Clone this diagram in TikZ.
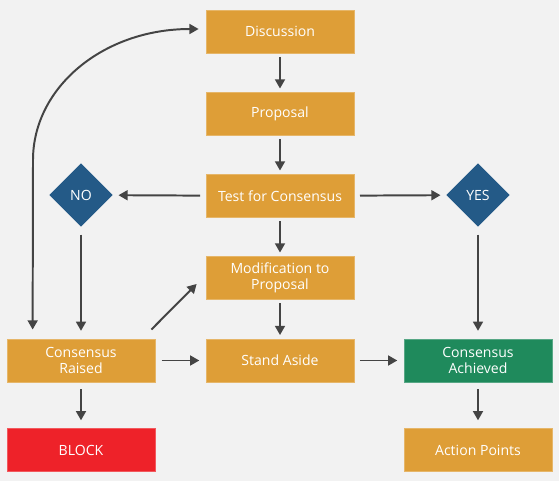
\documentclass[tikz,border=0pt]{standalone}
\usepackage{fontspec}
\setmainfont{Open Sans}
\usetikzlibrary{shapes.geometric}
\usetikzlibrary{arrows.meta}
\usetikzlibrary{calc}

\definecolor{bggrey}{HTML}{F2F2F2}
\definecolor{steporange}{HTML}{DE9E37}
\definecolor{decideblue}{HTML}{245A87}
\definecolor{donegreen}{HTML}{1F8A5C}
\definecolor{blockred}{HTML}{EE2229}
\definecolor{arrowgrey}{HTML}{444444}

\begin{document}
\begin{tikzpicture}[x=0.025cm, y=-0.025cm,
    stepbox/.style={fill=steporange, draw=steporange!75!white, line width=0.5pt,
        text=white, minimum width=3.7cm, minimum height=1.08cm, inner sep=0pt,
        align=center, font=\fontsize{10}{11.3}\selectfont},
    choice/.style={diamond, aspect=1, fill=decideblue, minimum size=1.585cm,
        inner sep=0pt, text=white, font=\fontsize{10}{11.3}\selectfont},
    arr/.style={draw=arrowgrey, line width=1.4pt, -{Triangle[length=6.5pt,width=7pt]}}]
    \path[use as bounding box, fill=bggrey] (0,0) rectangle (559,481);

    \node[stepbox] (disc) at (280,31.5) {Discussion};
    \node[stepbox] (prop) at (280,114) {Proposal};
    \node[stepbox] (test) at (280,196) {Test for Consensus};
    \node[stepbox] (mod) at (280,278) {Modification to\\Proposal};
    \node[stepbox] (stand) at (280,360.5) {Stand Aside};
    \node[stepbox] (raised) at (81,360.5) {Consensus\\Raised};
    \node[stepbox, fill=blockred, draw=blockred!75!white] (block) at (81,450) {BLOCK};
    \node[stepbox, fill=donegreen, draw=donegreen!75!white] (achv) at (478,360.5) {Consensus\\Achieved};
    \node[stepbox] (action) at (478,450) {Action Points};
    \node[choice] (no) at (81,195) {NO};
    \node[choice] (yes) at (478,195) {YES};

    \draw[arr, shorten <=2.5pt, shorten >=2.5pt] (disc) -- (prop);
    \draw[arr, shorten <=2.5pt, shorten >=2.5pt] (prop) -- (test);
    \draw[arr, shorten <=2.5pt, shorten >=2.5pt] (test) -- (mod);
    \draw[arr, shorten <=2.5pt, shorten >=2.5pt] (mod) -- (stand);
    \draw[arr, shorten <=4pt, shorten >=4pt] (test) -- (no);
    \draw[arr, shorten <=4pt, shorten >=4pt] (test) -- (yes);
    \draw[arr, shorten <=5.5pt, shorten >=5.5pt] (no) -- (raised);
    \draw[arr, shorten <=5.5pt, shorten >=5.5pt] (yes) -- (achv);
    \draw[arr, shorten <=4.5pt, shorten >=4.5pt] (raised) -- (stand);
    \draw[arr, shorten <=4pt, shorten >=4.5pt] (stand) -- (achv);
    \draw[arr, shorten <=5pt, shorten >=5.5pt] (raised) -- (block);
    \draw[arr, shorten <=5pt, shorten >=5.5pt] (achv) -- (action);
    \draw[arr] ($(raised.north east)+(-4,-9)$) -- ($(mod.south west)+(-9,-16)$);
    % loop between raised and discussion, heads at both ends
    \draw[arr, {Triangle[length=6.5pt,width=7pt]}-{Triangle[length=6.5pt,width=7pt]}]
        ($(raised.north west)+(26,-9)$) -- (33,160)
        .. controls (33,87.6) and (103,29) .. (190,29) -- ($(disc.west)+(-7,-2.5)$);
\end{tikzpicture}
\end{document}
